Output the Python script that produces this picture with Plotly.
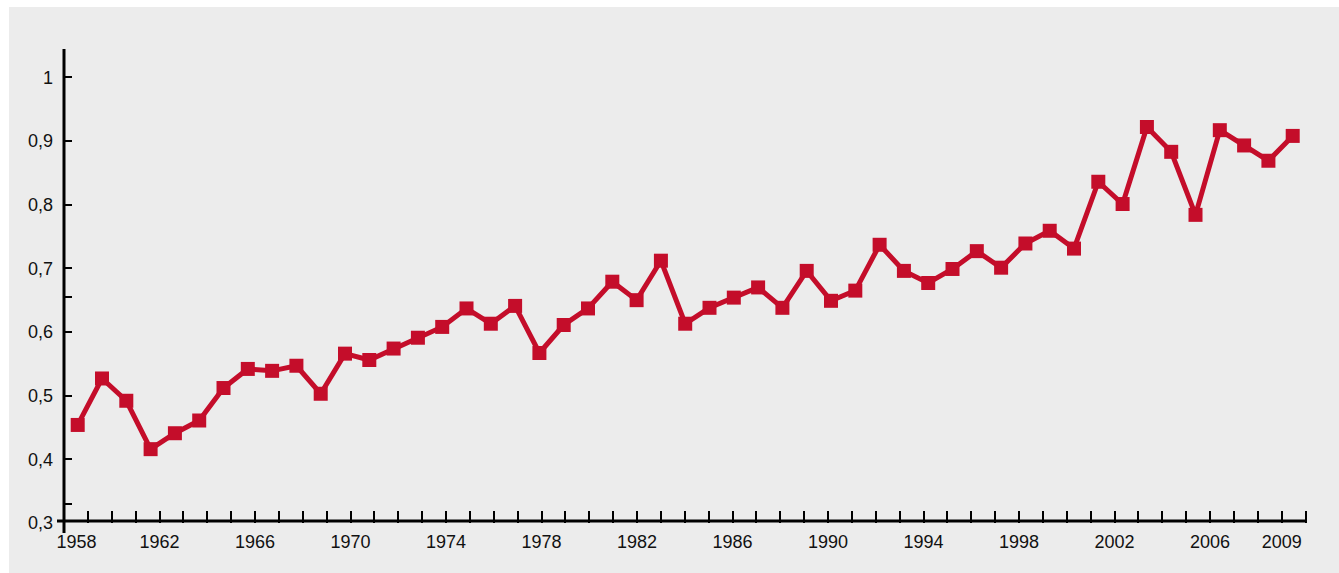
import plotly.graph_objects as go

# Series values (one point per year)
years = list(range(1959, 2010))
values = [
    0.454, 0.527, 0.492, 0.416, 0.441, 0.461, 0.512, 0.542, 0.539, 0.547,
    0.503, 0.566, 0.556, 0.574, 0.591, 0.608, 0.637, 0.613, 0.641, 0.567,
    0.611, 0.637, 0.679, 0.650, 0.712, 0.613, 0.638, 0.654, 0.670, 0.638,
    0.696, 0.649, 0.665, 0.737, 0.696, 0.677, 0.699, 0.727, 0.701, 0.739,
    0.759, 0.731, 0.836, 0.801, 0.922, 0.883, 0.784, 0.917, 0.893, 0.869,
    0.908,
]

# Axis ticks and labels
x_tick_years = list(range(1958, 2011))
x_labelled = [1958, 1962, 1966, 1970, 1974, 1978, 1982, 1986, 1990, 1994,
              1998, 2002, 2006, 2009]
y_tick_vals = [0.3, 0.3294, 0.4, 0.5, 0.6, 0.6545, 0.7, 0.8, 0.9, 1.0]
y_tick_text = ["0,3", "", "0,4", "0,5", "0,6", "", "0,7", "0,8", "0,9", "1"]

# Figure geometry
W, H = 1339, 573
ML, MR, MT, MB = 64, 32, 49, 50
TICK_RANGE = [1958, 2010.06]      # year scale carrying the tick marks
DATA_RANGE = [1958.436, 2009.588]  # year scale carrying the series
Y_RANGE = [0.3, 1.0445]

RED = "#C40D2A"
BG = "#ECECEC"
FONT = "Liberation Sans, Arial, sans-serif"
FONT_SIZE = 18
TXT = "#111111"

plot_w = W - ML - MR
plot_h = H - MT - MB


def year_label(y):
    if y not in x_labelled:
        return ""
    # the first year label is nudged right so it clears the "0,3" label
    if y == x_labelled[0]:
        return "\u2007\u2007\u00a0" + str(y)
    return str(y)


fig = go.Figure()
fig.add_trace(go.Scatter(
    x=years, y=values, xaxis="x", yaxis="y",
    mode="lines+markers",
    line=dict(color=RED, width=5),
    marker=dict(symbol="square", size=14, color=RED),
    hoverinfo="x+y", showlegend=False,
))
# empty trace that attaches the year-tick axis to the subplot
fig.add_trace(go.Scatter(
    x=TICK_RANGE, y=[None, None], xaxis="x2", yaxis="y",
    mode="markers", hoverinfo="skip", showlegend=False,
))

shapes = [
    # white frame on the left and top of the grey panel
    dict(type="rect", xref="paper", yref="paper",
         x0=-ML / plot_w - 0.01, x1=(9 - ML) / plot_w,
         y0=-MB / plot_h - 0.01, y1=(H - MB) / plot_h + 0.01,
         fillcolor="white", line=dict(width=0), layer="below"),
    dict(type="rect", xref="paper", yref="paper",
         x0=-ML / plot_w - 0.01, x1=1 + MR / plot_w + 0.01,
         y0=(H - MB - 7) / plot_h, y1=(H - MB) / plot_h + 0.01,
         fillcolor="white", line=dict(width=0), layer="below"),
    # horizontal axis line, starting a little left of the vertical one
    dict(type="line", xref="paper", yref="paper",
         x0=-7 / plot_w, x1=1, y0=2 / plot_h, y1=2 / plot_h,
         line=dict(color="black", width=3)),
    # vertical axis line, running slightly past the horizontal one
    dict(type="line", xref="paper", yref="paper",
         x0=0, x1=0, y0=-10 / plot_h, y1=1,
         line=dict(color="black", width=3)),
]

fig.update_layout(
    width=W, height=H,
    margin=dict(l=ML, r=MR, t=MT, b=MB, pad=0),
    paper_bgcolor=BG, plot_bgcolor=BG,
    font=dict(family=FONT, size=FONT_SIZE, color=TXT),
    shapes=shapes,
    xaxis=dict(
        range=DATA_RANGE, showticklabels=False, ticks="",
        showgrid=False, zeroline=False, showline=False, fixedrange=True,
    ),
    xaxis2=dict(
        range=TICK_RANGE, overlaying="x", anchor="y", side="bottom",
        showgrid=False, zeroline=False, showline=False,
        ticks="inside", ticklen=12, tickwidth=2, tickcolor="black",
        tickmode="array", tickvals=x_tick_years,
        ticktext=[year_label(y) for y in x_tick_years],
        ticklabelstandoff=6,
        tickfont=dict(family=FONT, size=FONT_SIZE, color=TXT),
        fixedrange=True,
    ),
    yaxis=dict(
        range=Y_RANGE, anchor="x",
        showgrid=False, zeroline=False, showline=False,
        ticks="inside", ticklen=8, tickwidth=2, tickcolor="black",
        tickvals=y_tick_vals, ticktext=y_tick_text,
        ticklabelstandoff=10,
        tickfont=dict(family=FONT, size=FONT_SIZE, color=TXT),
        fixedrange=True,
    ),
)

fig.write_html("out.html")
